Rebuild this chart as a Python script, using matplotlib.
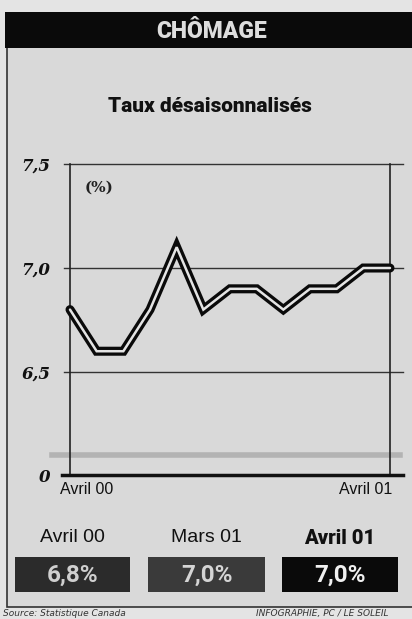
import matplotlib
matplotlib.use("Agg")
import matplotlib.pyplot as plt
import matplotlib.transforms as mtransforms
from matplotlib.patches import Rectangle

# ---- data ----
months = ["Avr 00", "Mai 00", "Juin 00", "Juil 00", "Août 00", "Sept 00", "Oct 00",
          "Nov 00", "Déc 00", "Janv 01", "Févr 01", "Mars 01", "Avr 01"]
rates = [6.8, 6.6, 6.6, 6.8, 7.1, 6.8, 6.9, 6.9, 6.8, 6.9, 6.9, 7.0, 7.0]
ytick_vals = [6.005, 6.5, 7.0, 7.5]
ytick_labels = ["0", "6,5", "7,0", "7,5"]
xtick_labels = ["Avril 00", "Avril 01"]
box_labels = ["Avril 00", "Mars 01", "Avril 01"]
box_values = ["6,8%", "7,0%", "7,0%"]

W, H = 412, 619
fig = plt.figure(figsize=(W / 100, H / 100), dpi=100)
fig.patch.set_facecolor("#e4e4e4")

def fx(x):
    return x / W

def fy(y):
    return 1 - y / H

cond = ["Roboto", "DejaVu Sans"]

# panel background
fig.patches.append(Rectangle((fx(7), fy(607)), fx(420), fy(47) - fy(607),
                             transform=fig.transFigure, facecolor="#d9d9d9",
                             edgecolor="#333333", lw=1.2, zorder=-5))
# header bar
fig.patches.append(Rectangle((fx(5), fy(48)), fx(420), fy(12) - fy(48),
                             transform=fig.transFigure, facecolor="#0a0a0a",
                             edgecolor="none", zorder=-4))
fig.text(fx(212), fy(31), "CHÔMAGE", color="#dddddd", fontsize=16.5, fontweight="black",
         family=cond, ha="center", va="center")
fig.text(fx(210), fy(107), "Taux désaisonnalisés", color="#111111", fontsize=15,
         fontweight="black", family=cond, ha="center", va="center")

# main axes
ax = fig.add_axes([fx(70), fy(475), fx(390) - fx(70), fy(164) - fy(475)])
ax.set_zorder(3)
ax.patch.set_alpha(0)
x = list(range(len(rates)))
ax.set_xlim(0, len(rates) - 1)
ax.set_ylim(ytick_vals[0], ytick_vals[-1])

for v in ytick_vals[1:]:
    ax.axhline(v, xmin=-0.02, xmax=1.04, color="#333333", lw=1.0, clip_on=False, zorder=1)
ax.axhline(ytick_vals[0], xmin=-0.025, xmax=1.04, color="#111111", lw=2.5, clip_on=False, zorder=3)
# axis break band
ax.axhline(6.10, xmin=-0.055, xmax=1.03, color="#b3b3b3", lw=4, clip_on=False, zorder=1)

for s in ["top", "bottom"]:
    ax.spines[s].set_visible(False)
for s in ["left", "right"]:
    ax.spines[s].set_color("#222222")
    ax.spines[s].set_linewidth(1.2)

ax.plot(x, rates, color="#0a0a0a", lw=6.5, solid_joinstyle="miter", zorder=4,
        solid_capstyle="round", clip_on=False)
ax.plot(x, rates, color="#e4e4e4", lw=1.8, solid_joinstyle="miter", zorder=5,
        solid_capstyle="round", clip_on=False)

ax.set_yticks(ytick_vals)
ax.set_yticklabels(ytick_labels, family="DejaVu Serif", fontweight="bold",
                   style="italic", fontsize=12, color="#111111")
ax.tick_params(axis="y", length=0, pad=14)
ax.set_xticks([0, len(rates) - 1])
ax.set_xticklabels(xtick_labels, family="Liberation Sans", fontsize=11.5, color="#111111")
ax.tick_params(axis="x", length=0, pad=5)
lbls = ax.get_xticklabels()
lbls[0].set_ha("left")
lbls[1].set_ha("right")
lbls[0].set_transform(lbls[0].get_transform() + mtransforms.ScaledTranslation(-10 / 100, 0, fig.dpi_scale_trans))
lbls[1].set_transform(lbls[1].get_transform() + mtransforms.ScaledTranslation(2 / 100, 0, fig.dpi_scale_trans))

ax.text(0.045, 0.925, "(%)", transform=ax.transAxes, family="DejaVu Serif",
        fontweight="bold", fontsize=11, color="#222222", ha="left", va="center")

# bottom boxes
box_x = [(15, 130), (148, 265), (282, 398)]
box_colors = ["#2b2b2b", "#3a3a3a", "#0a0a0a"]
text_colors = ["#cfcfcf", "#d5d5d5", "#f0f0f0"]
weights = ["normal", "normal", "black"]
for (x0, x1), lab, val, bc, tc, wt in zip(box_x, box_labels, box_values, box_colors,
                                          text_colors, weights):
    fig.patches.append(Rectangle((fx(x0), fy(592)), fx(x1 - x0), fy(557) - fy(592),
                                 transform=fig.transFigure, facecolor=bc,
                                 edgecolor="none", zorder=2))
    fig.text(fx((x0 + x1) / 2), fy(538), lab,
             family=cond if wt == "black" else "Liberation Sans",
             fontsize=14.5 if wt == "black" else 14, fontweight=wt, color="#111111",
             ha="center", va="center")
    fig.text(fx((x0 + x1) / 2), fy(575), val, family=cond, fontsize=17.5,
             fontweight="bold", color=tc, ha="center", va="center")

# footer
fig.text(fx(3), fy(609), "Source: Statistique Canada", fontsize=6.5, style="italic",
         color="#333333", ha="left", va="top")
fig.text(fx(256), fy(609), "INFOGRAPHIE, PC / LE SOLEIL", fontsize=6.5, style="italic",
         color="#333333", ha="left", va="top")

fig.savefig("out.png", dpi=100, facecolor=fig.get_facecolor())
